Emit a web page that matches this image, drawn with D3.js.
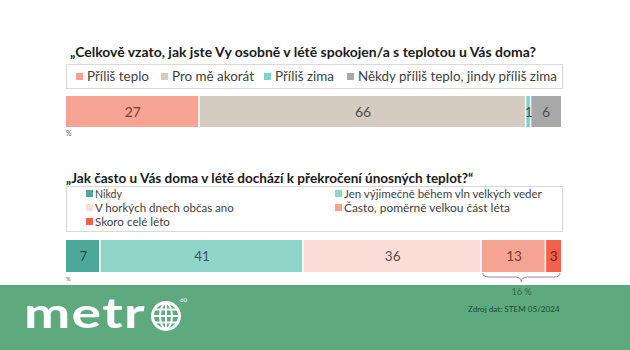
<!DOCTYPE html>
<html><head><meta charset="utf-8">
<script src="https://cdn.jsdelivr.net/npm/d3@7"></script>
<style>body{margin:0;background:#fff}svg{display:block}text{font-family:Lato,"Open Sans",sans-serif}</style>
</head><body>
<svg id="c" width="630" height="350"></svg>
<script>
// ---- data ----
const title1 = "„Celkově vzato, jak jste Vy osobně v létě spokojen/a s teplotou u Vás doma?";
const cats1 = ["Příliš teplo", "Pro mě akorát", "Příliš zima", "Někdy příliš teplo, jindy příliš zima"];
const vals1 = [27, 66, 1, 6];
const colors1 = ["#f7a393", "#d4ccc0", "#7ed3c8", "#a8a8a8"];

const title2 = "„Jak často u Vás doma v létě dochází k překročení únosných teplot?“";
const cats2 = ["Nikdy", "Jen výjimečně během vln velkých veder", "V horkých dnech občas ano", "Často, poměrně velkou část léta", "Skoro celé léto"];
const vals2 = [7, 41, 36, 13, 3];
const colors2 = ["#4ea89a", "#8fd5c9", "#fcdcd6", "#f7a393", "#f1604b"];

const braceLabel = "16 %";
const source = "Zdroj dat: STEM 05/2024";

// ---- drawing ----
const svg = d3.select("#c");
const x = d3.scaleLinear().domain([0, 100]).range([66, 561]);

function fitText(sel, w) {
  const l = sel.node().getComputedTextLength();
  const fs = parseFloat(sel.attr("font-size"));
  sel.attr("font-size", fs * w / l);
}

// Title 1
svg.append("text").attr("x", 70).attr("y", 57).attr("font-size", 14).attr("font-weight", 700)
  .attr("fill", "#1a1a1a").text(title1).call(s => fitText(s, 466));

// Legend 1 box
svg.append("rect").attr("x", 66.5).attr("y", 64.5).attr("width", 496).attr("height", 24)
  .attr("fill", "#fff").attr("stroke", "#d9d9d9");
const leg1X = [76, 161, 264, 347];
const leg1W = [62, 82, 59, 199];
cats1.forEach((c, i) => {
  svg.append("rect").attr("x", leg1X[i]).attr("y", 73).attr("width", 7).attr("height", 7).attr("fill", colors1[i]);
  svg.append("text").attr("x", leg1X[i] + 11).attr("y", 81).attr("font-size", 13).attr("fill", "#404040")
    .text(c).call(s => fitText(s, leg1W[i]));
});

// Bar 1
const stack1 = vals1.map((v, i) => ({ v, i, x0: d3.sum(vals1.slice(0, i)) }));
svg.selectAll(".b1").data(stack1).join("rect").attr("class", "b1")
  .attr("x", d => x(d.x0)).attr("y", 96).attr("width", d => x(d.x0 + d.v) - x(d.x0) - (d.i < 3 ? 1.5 : 0))
  .attr("height", 31).attr("fill", d => colors1[d.i]);
svg.selectAll(".l1").data(stack1).join("text").attr("class", "l1")
  .attr("x", d => (x(d.x0) + x(d.x0 + d.v)) / 2).attr("y", 116.5).attr("text-anchor", "middle")
  .attr("font-size", 14).attr("fill", d => d.i === 0 ? "#7a3b30" : "#505050").text(d => d.v);
svg.append("text").attr("x", 66).attr("y", 136).attr("font-size", 7).attr("fill", "#666").text("%");

// Title 2
svg.append("text").attr("x", 66).attr("y", 183).attr("font-size", 14).attr("font-weight", 700)
  .attr("fill", "#1a1a1a").text(title2).call(s => fitText(s, 408));

// Legend 2 box
svg.append("rect").attr("x", 66.5).attr("y", 186.5).attr("width", 496).attr("height", 45)
  .attr("fill", "#fff").attr("stroke", "#d9d9d9");
const leg2Pos = [[86, 194], [335, 194], [86, 208], [335, 208], [86, 222]];
const leg2W = [27, 198, 139, 166, 75];
cats2.forEach((c, i) => {
  const [lx, ly] = leg2Pos[i];
  svg.append("rect").attr("x", lx).attr("y", ly - 4).attr("width", 7).attr("height", 7).attr("fill", colors2[i]);
  svg.append("text").attr("x", lx + 9).attr("y", ly + 4).attr("font-size", 11).attr("fill", "#404040")
    .text(c).call(s => fitText(s, leg2W[i]));
});

// Bar 2
const stack2 = vals2.map((v, i) => ({ v, i, x0: d3.sum(vals2.slice(0, i)) }));
svg.selectAll(".b2").data(stack2).join("rect").attr("class", "b2")
  .attr("x", d => x(d.x0)).attr("y", 240).attr("width", d => x(d.x0 + d.v) - x(d.x0) - (d.i < 4 ? 1.5 : 0))
  .attr("height", 32).attr("fill", d => colors2[d.i]);
svg.selectAll(".l2").data(stack2).join("text").attr("class", "l2")
  .attr("x", d => (x(d.x0) + x(d.x0 + d.v)) / 2).attr("y", 260.5).attr("text-anchor", "middle")
  .attr("font-size", 13.5).attr("fill", d => d.i === 0 ? "#1f4f48" : d.i === 4 ? "#6b1f15" : d.i === 3 ? "#7a3b30" : "#505050")
  .text(d => d.v);
svg.append("text").attr("x", 66).attr("y", 281).attr("font-size", 6).attr("fill", "#666").text("%");

// Green footer band
svg.append("rect").attr("x", 0).attr("y", 285).attr("width", 630).attr("height", 65).attr("fill", "#5eaa7e");

// Brace over last two segments
const bx0 = x(100 - vals2[4] - vals2[3]) + 1, bx1 = x(100) - 1, bm = (bx0 + bx1) / 2, by = 273;
svg.append("path")
  .attr("d", `M${bx0},${by} Q${bx0},${by + 4} ${bx0 + 6},${by + 4} L${bm - 6},${by + 4} Q${bm},${by + 4} ${bm},${by + 9} Q${bm},${by + 4} ${bm + 6},${by + 4} L${bx1 - 6},${by + 4} Q${bx1},${by + 4} ${bx1},${by}`)
  .attr("fill", "none").attr("stroke", "#b07a8a").attr("stroke-width", 1);
svg.append("text").attr("x", bm).attr("y", 295).attr("text-anchor", "middle").attr("font-size", 9)
  .attr("fill", "#2e6a42").text(braceLabel);
svg.append("text").attr("x", 468).attr("y", 312).attr("font-size", 8)
  .attr("fill", "#1f4a2c").text(source).call(s => fitText(s, 92));

// metro logo (horizontally stretched so its text box stays inside the green band)
const logo = svg.append("text").attr("x", 0).attr("y", 0).attr("font-size", 42).attr("font-weight", 700)
  .attr("fill", "#fff").attr("letter-spacing", 1).text("metr");
const lw = logo.node().getComputedTextLength();
logo.attr("transform", `translate(24,328) scale(${122 / lw},1)`);
const g = svg.append("g").attr("transform", "translate(166,316)").attr("fill", "none").attr("stroke", "#fff").attr("stroke-width", 2);
g.append("circle").attr("r", 13.5).attr("stroke-width", 3);
g.append("ellipse").attr("rx", 6).attr("ry", 12.5);
g.append("line").attr("x1", 0).attr("x2", 0).attr("y1", -12.5).attr("y2", 12.5);
g.append("line").attr("x1", -12.5).attr("x2", 12.5).attr("y1", 0).attr("y2", 0);
g.append("line").attr("x1", -11).attr("x2", 11).attr("y1", -6.5).attr("y2", -6.5);
g.append("line").attr("x1", -11).attr("x2", 11).attr("y1", 6.5).attr("y2", 6.5);
svg.append("text").attr("x", 180).attr("y", 302).attr("font-size", 6).attr("fill", "#fff").text("60");
</script>
</body></html>
